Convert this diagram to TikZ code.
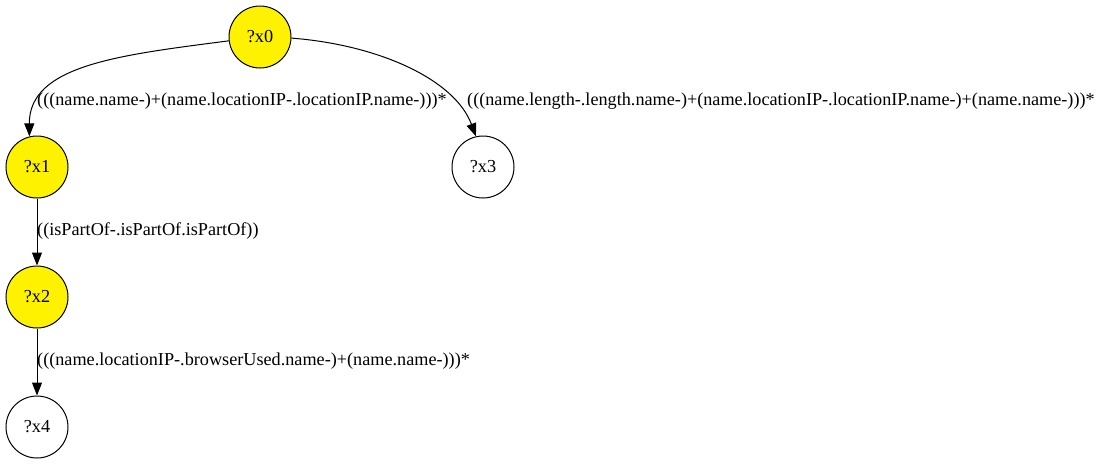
\documentclass[tikz,border=0pt]{standalone}
\usepackage{fontspec}
\setmainfont{Liberation Serif}
\usetikzlibrary{arrows.meta}
\begin{document}
\begin{tikzpicture}[x=1pt,y=-1pt,
  vnode/.style={circle,draw,line width=1pt,minimum size=62pt,inner sep=0pt,font=\fontsize{18.3}{21}\selectfont},
  filled/.style={vnode,fill=yellow},
  elabel/.style={anchor=west,inner sep=0pt,font=\fontsize{18.2}{21}\selectfont},
  arr/.style={line width=1pt,-{Triangle[length=13pt,width=10pt]}}]
\useasboundingbox (0,0) rectangle (1107,464);
\node[filled] (x0) at (260,37) {?x0};
\node[filled] (x1) at (37,167) {?x1};
\node[vnode] (x3) at (483,167) {?x3};
\node[filled] (x2) at (37,297) {?x2};
\node[vnode] (x4) at (37,427) {?x4};
\draw[arr] (x0.187) .. controls (120,55) and (29,65) .. (x1.104);
\draw[arr] (x0.358) .. controls (380,45) and (455,80) .. (x3.103);
\draw[arr] (x1) -- (x2);
\draw[arr] (x2) -- (x4);
\node[elabel] (l1) at (37,101) {(((name.name-)+(name.locationIP-.locationIP.name-)))*};
\node[elabel] (l2) at (467,101) {(((name.length-.length.name-)+(name.locationIP-.locationIP.name-)+(name.name-)))*};
\node[elabel] (l3) at (37,231) {((isPartOf-.isPartOf.isPartOf))};
\node[elabel] (l4) at (37,361) {(((name.locationIP-.browserUsed.name-)+(name.name-)))*};
\end{tikzpicture}
\end{document}
